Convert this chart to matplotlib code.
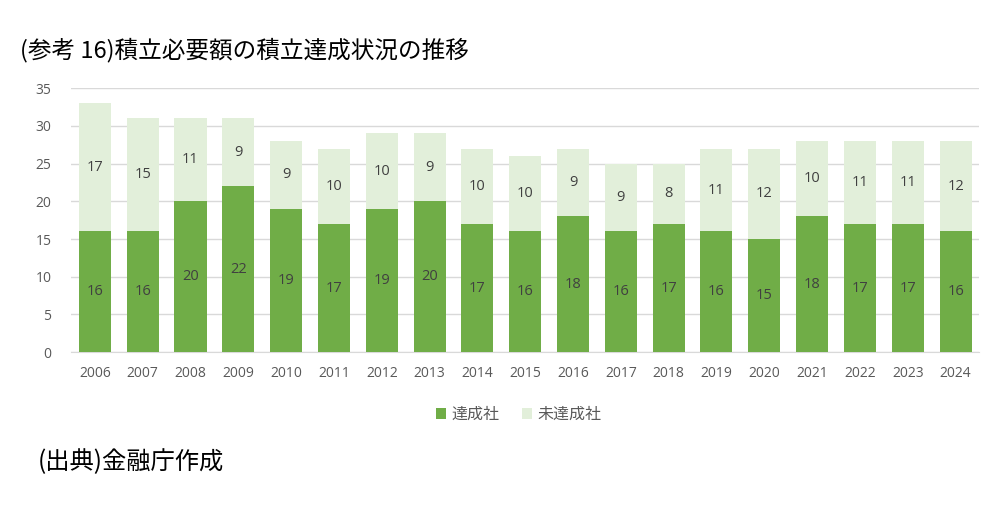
import matplotlib
matplotlib.use("Agg")
import matplotlib.pyplot as plt
import numpy as np

plt.rcParams['font.family'] = ['Noto Sans CJK JP', 'DejaVu Sans']

years = ["2006", "2007", "2008", "2009", "2010", "2011", "2012", "2013", "2014", "2015",
         "2016", "2017", "2018", "2019", "2020", "2021", "2022", "2023", "2024"]
achieved = [16, 16, 20, 22, 19, 17, 19, 20, 17, 16, 18, 16, 17, 16, 15, 18, 17, 17, 16]
not_achieved = [17, 15, 11, 9, 9, 10, 10, 9, 10, 10, 9, 9, 8, 11, 12, 10, 11, 11, 12]
yticks = [0, 5, 10, 15, 20, 25, 30, 35]

dark = '#70AD47'
light = '#E2EFDA'

fig = plt.figure(figsize=(10.05, 5.28), dpi=100)
ax = fig.add_axes([0.0706, 0.333, 0.904, 0.500])

x = np.arange(len(years))
ax.bar(x, achieved, width=0.67, color=dark, label='達成社', zorder=3)
ax.bar(x, not_achieved, width=0.67, bottom=achieved, color=light, label='未達成社', zorder=3)

num_font = ['Open Sans', 'DejaVu Sans']
for i in range(len(years)):
    ax.text(x[i], achieved[i] / 2, str(achieved[i]), ha='center', va='center',
            fontsize=10.5, color='#404040', family=num_font, zorder=4)
    ax.text(x[i], achieved[i] + not_achieved[i] / 2, str(not_achieved[i]), ha='center', va='center',
            fontsize=10.5, color='#404040', family=num_font, zorder=4)

ax.set_xlim(-0.5, len(years) - 0.5)
ax.set_ylim(0, 35)
ax.set_yticks(yticks)
ax.set_xticks(x)
ax.set_xticklabels(years, family=num_font)
ax.set_yticklabels([str(t) for t in yticks], family=num_font)
ax.tick_params(axis='both', length=0, labelsize=10, colors='#595959')
ax.tick_params(axis='x', pad=10)
ax.tick_params(axis='y', pad=14)
ax.yaxis.grid(True, color='#D9D9D9', linewidth=1, zorder=0)
for s in ['top', 'right', 'left']:
    ax.spines[s].set_visible(False)
ax.spines['bottom'].set_color('#D9D9D9')

ax.legend(loc='upper center', bbox_to_anchor=(0.493, -0.15), ncol=2, frameon=False,
          fontsize=11.5, handlelength=0.6, handleheight=0.6, handletextpad=0.35,
          columnspacing=1.4, labelcolor='#595959')

fig.text(0.02, 0.905, '(参考 16)積立必要額の積立達成状況の推移', fontsize=17, color='black',
         ha='left', va='center')
fig.text(0.038, 0.125, '(出典)金融庁作成', fontsize=17.5, color='black', ha='left', va='center')

fig.savefig('out.png', dpi=100)
